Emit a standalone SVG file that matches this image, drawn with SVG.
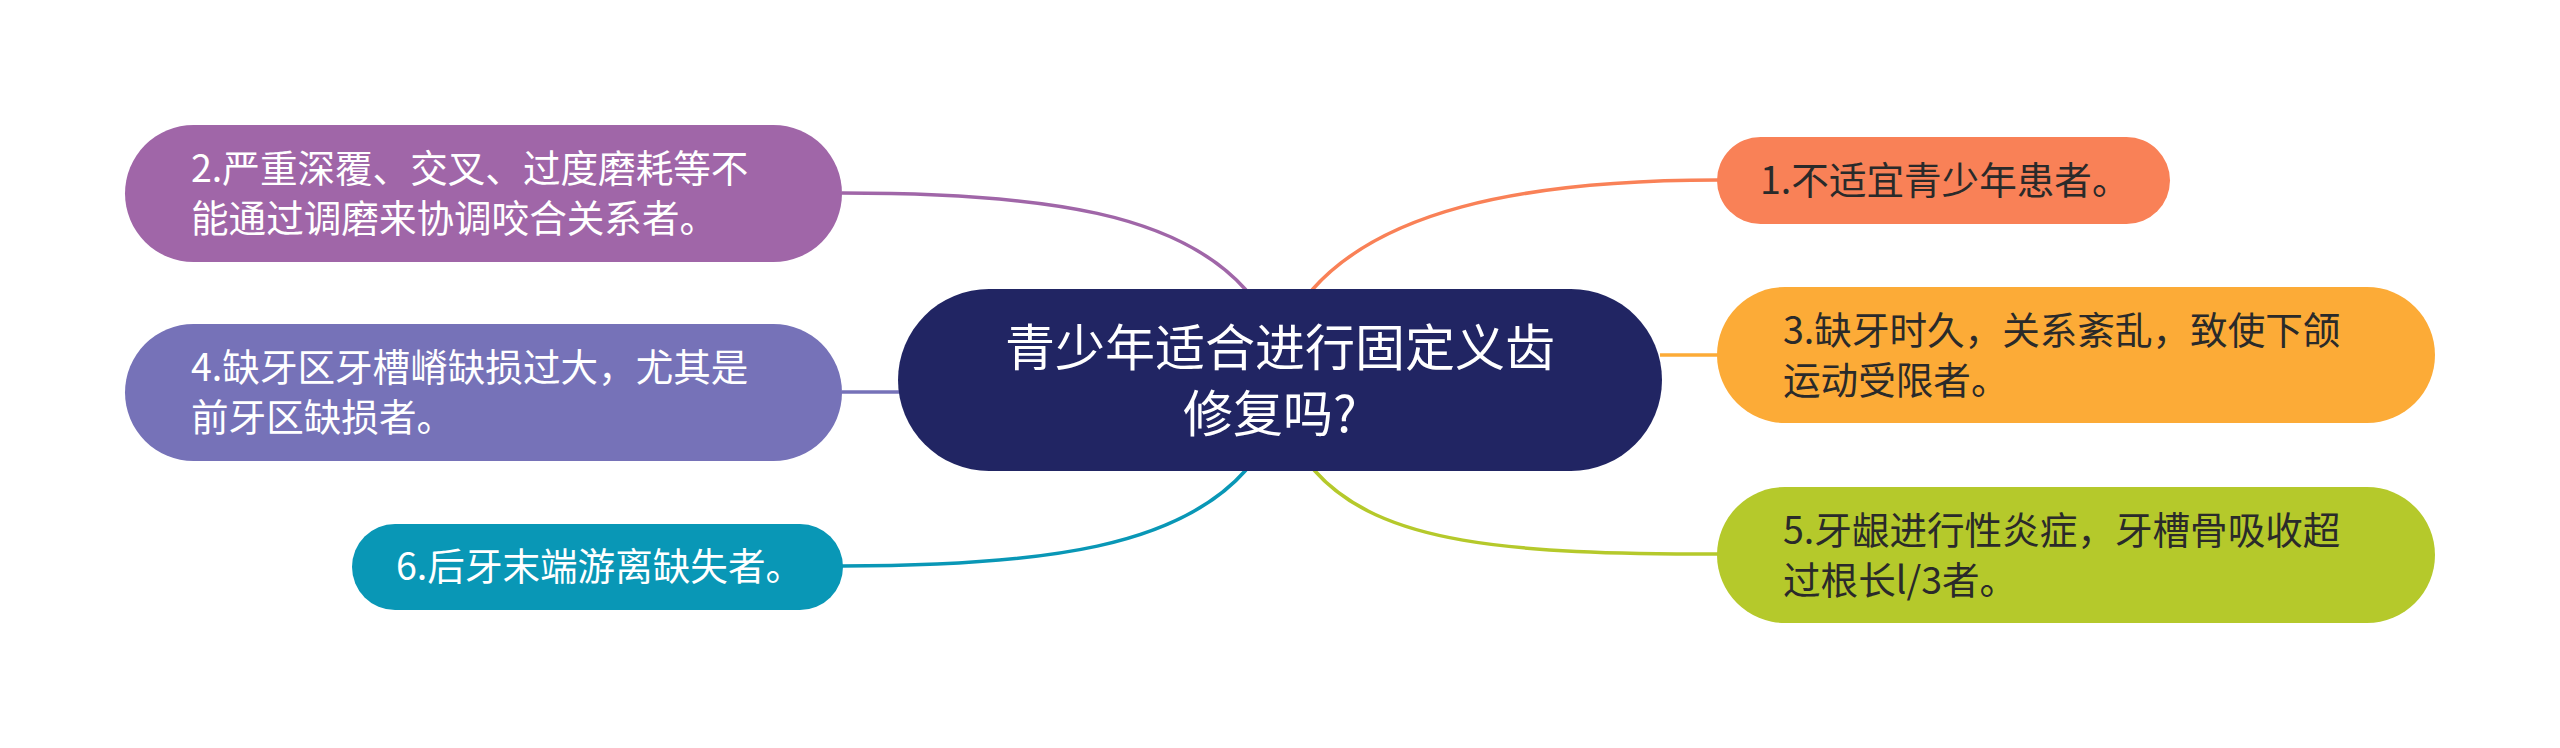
<svg xmlns="http://www.w3.org/2000/svg" width="2560" height="748" viewBox="0 0 2560 748">
<style>
.t{font-family:"Noto Sans CJK SC","Noto Sans",sans-serif;font-size:37.6px}
.w{fill:#ffffff}
.d{fill:#2a2a2a}
.c{font-family:"Noto Sans CJK SC","Noto Sans",sans-serif;font-size:50px;fill:#ffffff}
.e{fill:none;stroke-width:3.5}
</style>
<rect width="2560" height="748" fill="#ffffff"/>
<g id="connectors">
<path class="e" stroke="#a066a8" d="M842,193 C1050,193 1180,215 1246,290"/>
<path class="e" stroke="#7672b8" d="M842,392 L900,392"/>
<path class="e" stroke="#0997b6" d="M842,566 C1050,566 1180,545 1246,470"/>
<path class="e" stroke="#f98157" d="M1312,290 C1378,215 1510,180 1718,180"/>
<path class="e" stroke="#fcab37" d="M1660,355 L1718,355"/>
<path class="e" stroke="#b5c92b" d="M1314,470 C1380,545 1510,554 1718,554"/>
</g>
<g id="center">
<rect x="898" y="289" width="764" height="182" rx="91" ry="91" fill="#212563"/>
<text class="c" x="1280" y="366" text-anchor="middle">青少年适合进行固定义齿</text>
<text class="c" x="1183" y="432">修复吗?</text>
</g>
<g id="node2">
<rect x="125" y="125" width="717" height="137" rx="68.5" ry="68.5" fill="#a066a8"/>
<text class="t w" x="191" y="182">2.严重深覆、交叉、过度磨耗等不</text>
<text class="t w" x="191" y="232">能通过调磨来协调咬合关系者。</text>
</g>
<g id="node4">
<rect x="125" y="324" width="717" height="137" rx="68.5" ry="68.5" fill="#7672b8"/>
<text class="t w" x="191" y="381">4.缺牙区牙槽嵴缺损过大，尤其是</text>
<text class="t w" x="191" y="431">前牙区缺损者。</text>
</g>
<g id="node6">
<rect x="352" y="524" width="491" height="86" rx="43" ry="43" fill="#0997b6"/>
<text class="t w" x="396" y="580">6.后牙末端游离缺失者。</text>
</g>
<g id="node1">
<rect x="1717" y="137" width="453" height="87" rx="43.5" ry="43.5" fill="#f98157"/>
<text class="t d" x="1760" y="194">1.不适宜青少年患者。</text>
</g>
<g id="node3">
<rect x="1717" y="287" width="718" height="136" rx="68" ry="68" fill="#fcab37"/>
<text class="t d" x="1783" y="344">3.缺牙时久，关系紊乱，致使下颌</text>
<text class="t d" x="1783" y="394">运动受限者。</text>
</g>
<g id="node5">
<rect x="1717" y="487" width="718" height="136" rx="68" ry="68" fill="#b5c92b"/>
<text class="t d" x="1783" y="544">5.牙龈进行性炎症，牙槽骨吸收超</text>
<text class="t d" x="1783" y="594">过根长l/3者。</text>
</g>
</svg>
